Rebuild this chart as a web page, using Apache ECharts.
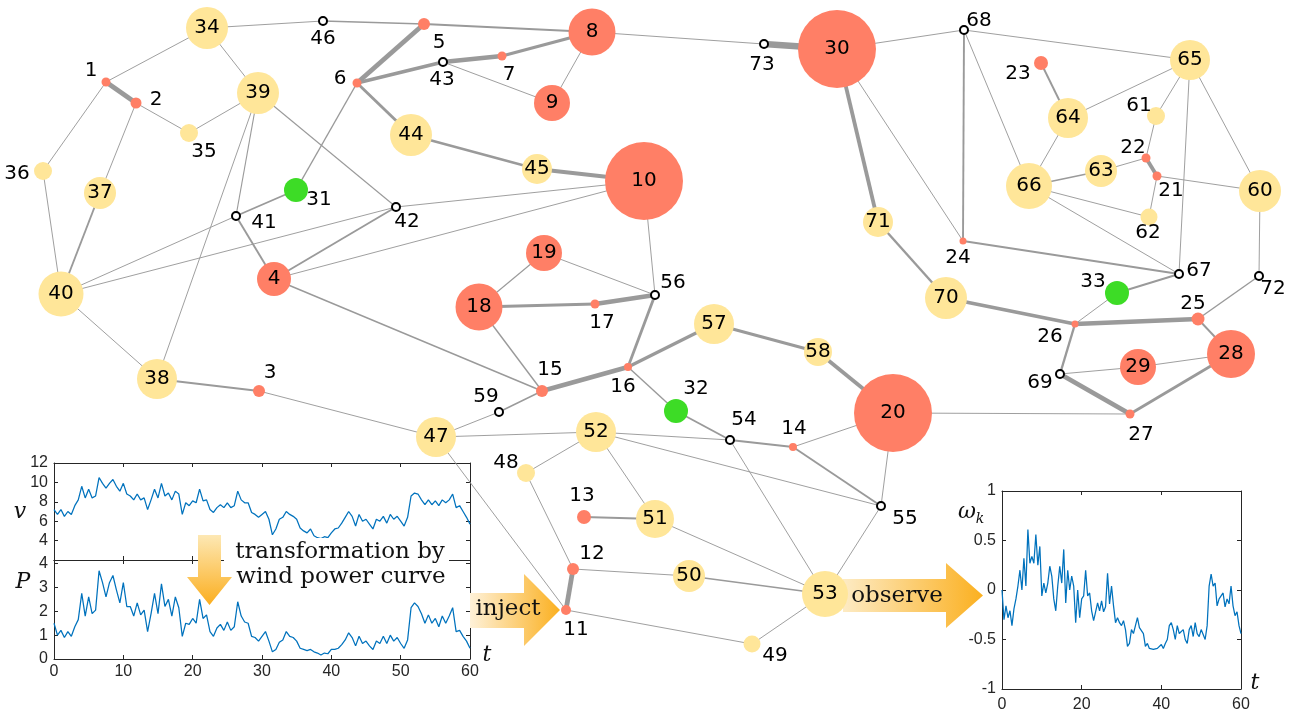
<!DOCTYPE html>
<html>
<head>
<meta charset="utf-8">
<script src="https://cdn.jsdelivr.net/npm/echarts@6/dist/echarts.min.js"></script>
<style>html,body{margin:0;padding:0;background:#fff}#c{width:1291px;height:714px}</style>
</head>
<body>
<div id="c"></div>
<script>
// ---------------- DATA ----------------
// Network nodes (id 1..73): layout coordinates, node magnitude, node class
const NODE_IDS = [1,2,3,4,5,6,7,8,9,10,11,12,13,14,15,16,17,18,19,20,21,22,23,24,25,26,27,28,29,30,31,32,33,34,35,36,37,38,39,40,41,42,43,44,45,46,47,48,49,50,51,52,53,54,55,56,57,58,59,60,61,62,63,64,65,66,67,68,69,70,71,72,73];
const NODE_X = [106,136,259,274,424,357,502,592,552,644,566,573,584,793,542,628,595,479,544,893,1157,1146,1041,963,1198,1075,1130,1231,1138,837,296,676,1117,207,189,43,100,157,258,61,236,396,443,411,537,323,436,526,752,689,655,596,825,730,881,655,714,818,499,1260,1156,1149,1101,1068,1190,1029,1179,964,1060,946,878,1259,764];
const NODE_Y = [82,103,391,279,24,83,56,32,103,181,610,569,517,447,391,367,304,307,253,413,176,158,63,241,319,324,414,354,367,49,190,411,293,28,133,171,193,379,93,294,216,207,62,135,169,21,437,473,644,576,519,432,594,440,506,295,324,352,412,191,116,217,171,118,60,186,274,30,374,298,222,276,44];
const NODE_MAG = [9,11,12,34,12,9,9,47,36,78,10,12,14,8,12,8,9,47,36,78,9,9,14,7,13,7,9,48,36,78,24,24,24,42,18,18,32,40,42,45,0,0,0,42,30,0,40,18,17,32,38,40,46,0,0,0,40,28,0,42,18,17,32,40,40,46,0,0,0,42,30,0,0];
// class: g = generator, c = controlled, l = load, z = passive junction
const NODE_CLASS = ['g','g','g','g','g','g','g','g','g','g','g','g','g','g','g','g','g','g','g','g','g','g','g','g','g','g','g','g','g','g','c','c','c','l','l','l','l','l','l','l','z','z','z','l','l','z','l','l','l','l','l','l','l','z','z','z','l','l','z','l','l','l','l','l','l','l','z','z','z','l','l','z','z'];
// Lines: [from, to, flow level]
const EDGES = [
[1,2,5],[1,34,1],[1,36,1],[2,35,1],[2,37,1],[34,39,1],[34,46,1],[35,39,1],[36,40,1],[37,40,2],
[39,41,1.2],[39,38,1],[39,42,1.2],[41,31,2],[41,40,1],[41,4,2],[40,42,1],[42,10,1],[4,10,1],[4,42,2],
[4,15,1.5],[6,5,5],[6,43,4],[6,44,3],[6,31,1.5],[46,5,1.5],[5,8,2],[43,7,5],[7,8,3.5],[43,9,1],
[8,9,1],[8,73,1],[73,30,7],[44,45,2.5],[45,10,4.5],[10,56,1],[19,18,1.2],[19,56,1],[18,17,3],[17,56,5],
[18,15,1.5],[56,16,3],[15,16,5],[16,57,3.5],[16,32,1.5],[32,54,2],[15,59,1.5],[59,47,1],[38,3,2],[3,47,1],
[40,38,1],[47,52,1],[47,11,1],[52,54,1],[52,55,1],[54,14,2],[14,20,1],[14,55,2],[54,53,1],[52,48,1],
[52,51,1],[48,12,1],[13,51,2],[51,53,1],[12,11,5],[12,50,1],[50,53,1.5],[11,49,1],[49,53,1],[53,55,1],
[55,20,1],[57,58,3],[58,20,4],[20,27,1],[30,71,4],[30,24,1],[30,68,1],[71,70,2.5],[70,26,4],[68,24,2],
[68,66,1],[68,65,1],[24,67,2],[23,64,2],[64,65,1],[64,66,1],[65,61,1],[65,67,1],[65,60,1],[61,22,1],
[22,21,4],[22,63,1],[63,66,1.5],[21,62,1],[21,60,1],[66,62,1],[66,67,1],[67,33,2],[33,26,1],[26,25,5],
[26,69,2.5],[25,72,1.5],[60,72,1],[25,28,2],[69,29,1],[29,28,1],[69,27,5],[27,28,3]
];

// Time series (t = 0..60, step 0.5)
const T = [0,0.5,1,1.5,2,2.5,3,3.5,4,4.5,5,5.5,6,6.5,7,7.5,8,8.5,9,9.5,10,10.5,11,11.5,12,12.5,13,13.5,14,14.5,15,15.5,16,16.5,17,17.5,18,18.5,19,19.5,20,20.5,21,21.5,22,22.5,23,23.5,24,24.5,25,25.5,26,26.5,27,27.5,28,28.5,29,29.5,30,30.5,31,31.5,32,32.5,33,33.5,34,34.5,35,35.5,36,36.5,37,37.5,38,38.5,39,39.5,40,40.5,41,41.5,42,42.5,43,43.5,44,44.5,45,45.5,46,46.5,47,47.5,48,48.5,49,49.5,50,50.5,51,51.5,52,52.5,53,53.5,54,54.5,55,55.5,56,56.5,57,57.5,58,58.5,59,59.5,60];
const WIND_V = [7.2,6.7,7.2,6.5,7.0,6.7,7.6,8.2,9.6,8.4, 9.3,8.4,8.6,10.5,9.9,9.4,9.9,10.3,9.6,9.1, 9.9,8.8,8.6,8.2,8.8,8.2,8.4,7.2,8.2,9.3, 8.4,9.9,8.6,8.9,8.2,9.1,8.8,6.7,7.9,7.6, 8.1,7.9,9.3,8.1,8.2,7.2,6.9,7.4,7.7,7.4, 7.9,7.4,7.6,9.1,8.2,7.9,7.9,6.9,6.7,6.4, 6.7,7.0,6.2,4.6,5.2,6.2,6.4,7.0,6.7,6.5, 6.2,5.3,5.0,4.8,5.2,4.5,4.3,4.2,4.4,4.3, 4.8,5.2,5.3,5.8,6.4,7.0,6.5,5.5,6.7,6.0, 6.2,5.7,5.2,6.2,6.0,6.5,5.8,6.7,6.2,6.5, 6.0,5.5,6.4,8.6,8.9,8.8,8.2,7.7,8.2,7.7, 8.1,7.6,8.2,7.9,8.2,8.8,7.4,7.6,7.0,6.4, 5.7];
const POWER_P = [1.5,1.0,1.2,0.9,1.15,0.95,1.35,1.65,2.75,1.8, 2.6,1.9,2.05,3.7,3.2,2.6,3.2,3.5,2.9,2.35, 3.2,2.2,2.2,1.8,2.35,1.85,2.05,1.15,1.9,2.75, 1.9,3.15,2.2,2.5,1.8,2.6,2.15,0.95,1.5,1.45, 1.7,1.5,2.5,1.7,1.85,1.15,0.95,1.3,1.45,1.2, 1.55,1.2,1.35,2.4,1.8,1.55,1.5,0.95,0.9,0.75, 0.95,1.15,0.75,0.3,0.4,0.7,0.8,1.15,0.95,0.9, 0.75,0.45,0.4,0.35,0.4,0.3,0.25,0.17,0.25,0.22, 0.4,0.4,0.45,0.6,0.8,1.1,0.9,0.55,0.95,0.65, 0.75,0.55,0.4,0.75,0.65,0.95,0.65,1.0,0.75,0.9, 0.65,0.45,0.8,2.15,2.35,2.2,1.9,1.5,1.85,1.5, 1.7,1.35,1.8,1.5,1.8,2.15,1.15,1.2,0.95,0.75, 0.45];
const OMEGA = [0.0,-0.3,-0.16,-0.28,-0.21,-0.36,-0.19,-0.09,0.04,0.2, 0.0,0.32,0.04,0.61,0.27,0.34,0.27,0.56,0.25,0.44, -0.06,0.07,-0.03,0.07,0.24,0.14,-0.09,-0.21,0.04,0.24, 0.07,0.41,-0.13,0.2,0.0,0.14,0.04,-0.33,0.0,-0.28, -0.09,-0.06,0.2,-0.06,-0.03,-0.21,-0.31,-0.22,-0.13,-0.21, -0.11,-0.22,-0.17,0.17,-0.14,0.04,-0.16,-0.33,-0.28,-0.33, -0.36,-0.31,-0.4,-0.57,-0.54,-0.4,-0.44,-0.36,-0.28,-0.38, -0.4,-0.44,-0.57,-0.54,-0.59,-0.57,-0.6,-0.62,-0.59,-0.6, -0.55,-0.59,-0.54,-0.5,-0.36,-0.33,-0.4,-0.5,-0.36,-0.44, -0.42,-0.4,-0.5,-0.54,-0.4,-0.36,-0.47,-0.33,-0.44,-0.47, -0.4,-0.45,-0.5,-0.36,0.04,0.16,0.04,0.07,-0.16,-0.09, -0.11,-0.03,-0.17,-0.09,-0.14,0.04,-0.16,-0.26,-0.22,-0.36, -0.44];

// ---------------- STYLE ----------------
const CLASS_COLOR = {g:'#FF7F66', c:'#3DDC26', l:'#FFE699', z:'#ffffff'};
const LABEL_OFFSET = {1:[-15,-11],2:[20,-3],3:[11,-18],5:[15,19],6:[-17,-4],7:[7,19],11:[10,20],12:[19,-15],13:[-2,-21],14:[1,-18],15:[8,-21],16:[-5,20],17:[7,19],21:[14,15],22:[-13,-10],23:[-23,11],24:[-5,17],25:[-5,-15],26:[-25,13],27:[11,21],31:[23,10],32:[20,-22],33:[-24,-11],35:[15,19],36:[-26,3],41:[28,7],42:[11,15],43:[-1,18],46:[0,18],48:[-20,-10],49:[23,12],54:[14,-20],55:[24,13],56:[18,-12],59:[-13,-15],61:[-17,-10],62:[-1,16],67:[20,-3],68:[15,-9],69:[-20,9],72:[14,13],73:[-2,21]};
const EDGE_COLOR = '#9a9a9a';
const LINE_BLUE = '#0072BD';
const AX = '#262626';
const TICK_FONT = 'Liberation Sans';
const SERIF = 'DejaVu Serif';

// ---------------- BUILD ----------------
const nodes = NODE_IDS.map((id, i) => {
  const cls = NODE_CLASS[i];
  const hollow = cls === 'z';
  const off = LABEL_OFFSET[id];
  return {
    name: String(id),
    value: [NODE_X[i], NODE_Y[i]],
    symbolSize: hollow ? 8 : NODE_MAG[i],
    itemStyle: hollow ? {color:'#fff', borderColor:'#000', borderWidth:2}
                      : {color: CLASS_COLOR[cls], borderWidth:0},
    label: {show:true, position:'inside', offset: off || [0,0]}
  };
});
const links = EDGES.map(e => ({
  source: String(e[0]), target: String(e[1]),
  lineStyle: {width: e[2] * 0.95, color: EDGE_COLOR, opacity: 1}
}));

function xA(grid, min, max, interval, pos, showLabel, margin) {
  return {type:'value', gridIndex:grid, min, max, interval, position:pos,
    axisLine:{show:true, onZero:false, lineStyle:{color:AX, width:1}},
    axisTick:{show:true, inside:true, length:4, lineStyle:{color:AX, width:1}},
    axisLabel:{show:showLabel, fontSize:16, color:AX, margin:margin, fontFamily:TICK_FONT},
    splitLine:{show:false}};
}
function yA(grid, min, max, interval, pos, showLabel, fmt) {
  return {type:'value', gridIndex:grid, min, max, interval, position:pos,
    axisLine:{show:true, onZero:false, lineStyle:{color:AX, width:1}},
    axisTick:{show:true, inside:true, length:4, lineStyle:{color:AX, width:1}},
    axisLabel:{show:showLabel, fontSize:16, color:AX, margin:6, fontFamily:TICK_FONT, formatter: fmt},
    splitLine:{show:false}};
}
const intOnly = v => (Math.abs(v - Math.round(v)) < 1e-6 ? String(v) : '');

function arrow(points, vertical, c0, c1, z) {
  return {type:'polygon', shape:{points}, z: z, silent:true,
    style:{fill: new echarts.graphic.LinearGradient(0,0, vertical?0:1, vertical?1:0,
      [{offset:0,color:c0},{offset:1,color:c1}])}};
}
function txt(x, y, s, font, z) {
  return {type:'text', z:z, silent:true, x:x, y:y,
    style:{text:s, font:font, fill:'#111', align:'center', verticalAlign:'middle'}};
}

const chart = echarts.init(document.getElementById('c'), null, {renderer:'canvas'});
chart.setOption({
  animation:false,
  backgroundColor:'#fff',
  textStyle:{fontFamily:'DejaVu Sans'},
  grid:[
    {left:0, top:0, width:1291, height:714},
    {left:54, top:463, width:416, height:97},
    {left:54, top:560, width:416, height:99},
    {left:1002, top:491, width:239, height:198}
  ],
  xAxis:[
    {type:'value', gridIndex:0, min:0, max:1291, show:false},
    xA(1,0,60,10,'bottom',false,4), xA(1,0,60,10,'top',false,4),
    xA(2,0,60,10,'bottom',true,5), xA(2,0,60,10,'top',false,4),
    xA(3,0,60,20,'bottom',true,8), xA(3,0,60,20,'top',false,4)
  ],
  yAxis:[
    {type:'value', gridIndex:0, min:0, max:714, inverse:true, show:false},
    yA(1,2,12,2,'left',true, v => (v===2?'':String(v))), yA(1,2,12,2,'right',false),
    yA(2,0,4.15,1,'left',true,intOnly), yA(2,0,4.15,1,'right',false),
    yA(3,-1,1,0.5,'left',true), yA(3,-1,1,0.5,'right',false)
  ],
  series:[
    {type:'graph', coordinateSystem:'cartesian2d', xAxisIndex:0, yAxisIndex:0,
     z:6, roam:false, symbol:'circle', data:nodes, links:links,
     label:{show:true, fontSize:20, color:'#000', fontFamily:'DejaVu Sans'},
     emphasis:{disabled:true}},
    {type:'line', xAxisIndex:1, yAxisIndex:1, z:7, showSymbol:false, symbol:'none',
     data:T.map((t,i)=>[t,WIND_V[i]]), lineStyle:{color:LINE_BLUE, width:1.25}},
    {type:'line', xAxisIndex:3, yAxisIndex:3, z:7, showSymbol:false, symbol:'none',
     data:T.map((t,i)=>[t,POWER_P[i]]), lineStyle:{color:LINE_BLUE, width:1.25}},
    {type:'line', xAxisIndex:5, yAxisIndex:5, z:7, showSymbol:false, symbol:'none',
     data:T.map((t,i)=>[t,OMEGA[i]]), lineStyle:{color:LINE_BLUE, width:1.25}}
  ],
  graphic:{elements:[
    // observe arrow (behind node 53)
    arrow([[843,579],[946,579],[946,563],[983,595.5],[946,628],[946,612],[843,612]], false, '#FDEBC4', '#FBB020', 2),
    txt(897, 596, 'observe', '23px "'+SERIF+'"', 4),
    // inject arrow
    arrow([[470,593],[524,593],[524,574],[560,610],[524,646],[524,628],[470,628]], false, '#FEF1D8', '#FBB020', 50),
    txt(508, 609, 'inject', '23px "'+SERIF+'"', 51),
    // transformation text with white backing
    {type:'rect', z:50, silent:true, shape:{x:224, y:538, width:225, height:52}, style:{fill:'#fff'}},
    txt(340, 552, 'transformation by', '23px "'+SERIF+'"', 51),
    txt(341, 577, 'wind power curve', '23px "'+SERIF+'"', 51),
    // down arrow
    arrow([[198,535],[221,535],[221,577],[232,577],[209.5,605],[187,577],[198,577]], true, '#FDE8B4', '#FBAE1F', 52),
    // axis names
    txt(20, 512, 'v', 'italic 22px "'+SERIF+'"', 60),
    txt(23, 582, 'P', 'italic 22px "'+SERIF+'"', 60),
    txt(487, 655, 't', 'italic 22px "'+SERIF+'"', 60),
    txt(967, 512, 'ω', 'italic 22px "'+SERIF+'"', 60),
    txt(980, 519, 'k', 'italic 14px "'+SERIF+'"', 60),
    txt(1255, 683, 't', 'italic 22px "'+SERIF+'"', 60)
  ]}
});
</script>
</body>
</html>
